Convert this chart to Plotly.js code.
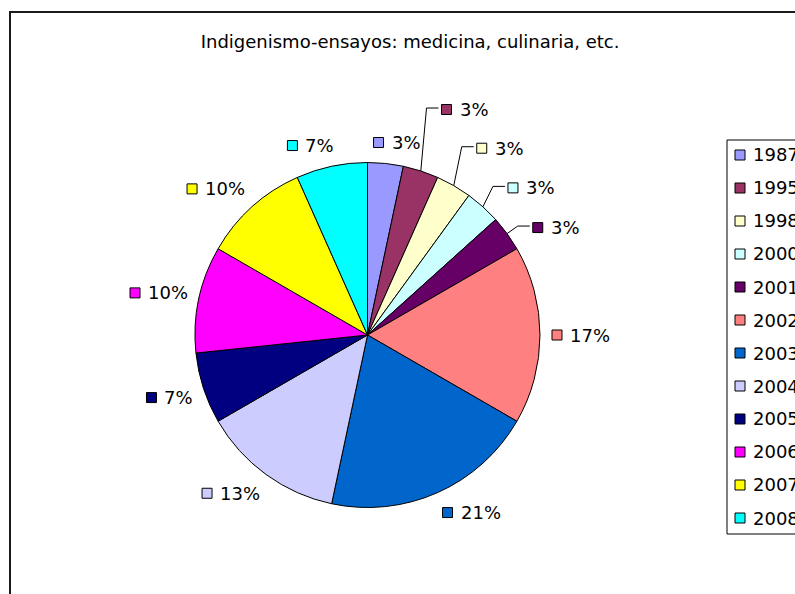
<!DOCTYPE html>
<html>
<head>
<meta charset="utf-8">
<script src="https://cdn.plot.ly/plotly-3.0.1.min.js"></script>
<style>
  html, body { margin: 0; padding: 0; background: #fff; overflow: hidden; width: 795px; height: 594px; }
  #wrap { position: absolute; left: 9px; top: 11px; border-left: 2px solid #1a1a1a; border-top: 2px solid #1a1a1a; }
  #chart { width: 860px; height: 620px; }
</style>
</head>
<body>
<div id="wrap"><div id="chart"></div></div>
<script>
// Data
const years = ['1987', '1995', '1998', '2000', '2001', '2002', '2003', '2004', '2005', '2006', '2007', '2008'];
const counts = [1, 1, 1, 1, 1, 5, 6, 4, 2, 3, 3, 2];
const pctLabels = ['3%', '3%', '3%', '3%', '3%', '17%', '21%', '13%', '7%', '10%', '10%', '7%'];
const colors = ['#9999FF', '#993366', '#FFFFCC', '#CCFFFF', '#660066', '#FF8080',
                '#0066CC', '#CCCCFF', '#000080', '#FF00FF', '#FFFF00', '#00FFFF'];
const titleText = 'Indigenismo-ensayos: medicina, culinaria, etc.';

const FONT = 'DejaVu Sans, Arial, sans-serif';
const W = 860, H = 620;
const dom = { x: [0.21395, 0.61512], y: [0.20242, 0.75887] };

// label placement tweaks (pixels), like the manually moved data labels of the original
const labelNudge = { 1: [17, -41], 2: [17, -18], 3: [17, -1], 4: [16, 10] };

const trace = {
  type: 'pie',
  labels: years,
  values: counts,
  textinfo: 'none',
  sort: false,
  direction: 'clockwise',
  rotation: 0,
  marker: { colors: colors, line: { color: '#000', width: 1 } },
  domain: dom,
  hoverinfo: 'none',
  showlegend: false
};

// ---- geometry helpers (pixel space of the plot, margin 0) ----
const px = x => x / W, py = y => 1 - y / H;
const cx = W * (dom.x[0] + dom.x[1]) / 2;
const cy = H * (1 - (dom.y[0] + dom.y[1]) / 2);
const r = Math.min(W * (dom.x[1] - dom.x[0]), H * (dom.y[1] - dom.y[0])) / 2;
const total = counts.reduce((a, b) => a + b, 0);

const ctx = document.createElement('canvas').getContext('2d');
ctx.font = '18px "DejaVu Sans"';

const SQ = 10, GAP = 7, LH = 18, R0 = r + 12;
const shapes = [], annotations = [];
let cum = 0;
counts.forEach((v, i) => {
  const th = (cum + v / 2) / total * 2 * Math.PI; cum += v;
  const s = Math.sin(th), c = Math.cos(th);
  const tw = ctx.measureText(pctLabels[i]).width;
  const gw = SQ + GAP + tw, gh = LH;
  const f = Math.max(-1, Math.min(1, 4 * s)), g = Math.max(-1, Math.min(1, 2 * c));
  const nd = labelNudge[i] || [0, 0];
  const X = cx + R0 * s + f * gw / 2 + nd[0];
  const Y = cy - R0 * c - g * gh / 2 + nd[1];
  const x0 = X - gw / 2;

  if (labelNudge[i]) {
    const ex = cx + r * s, ey = cy - r * c;
    shapes.push({
      type: 'path', xref: 'paper', yref: 'paper',
      path: 'M' + px(ex) + ',' + py(ey) + ' L' + px(x0 - 15) + ',' + py(Y - 1.5) + ' L' + px(x0 - 3) + ',' + py(Y - 1.5),
      line: { color: '#000', width: 1 }
    });
  }
  shapes.push({
    type: 'rect', xref: 'paper', yref: 'paper',
    x0: px(x0), x1: px(x0 + SQ), y0: py(Y + SQ / 2), y1: py(Y - SQ / 2),
    fillcolor: colors[i], line: { color: '#000', width: 1 }
  });
  annotations.push({
    xref: 'paper', yref: 'paper', x: px(x0 + SQ + GAP), y: py(Y),
    xanchor: 'left', yanchor: 'middle', showarrow: false, borderpad: 0,
    text: pctLabels[i], font: { family: FONT, size: 18, color: '#000' }
  });
});

// ---- legend box (page origin offset: 11, 13) ----
const LX = 716, LY = 127, LB = 521, STEP = 33, FIRST = 142, KEYX = 724, TXTX = 741;
shapes.push({
  type: 'rect', xref: 'paper', yref: 'paper',
  x0: px(LX), x1: 1.05, y0: py(LB), y1: py(LY),
  fillcolor: '#fff', line: { color: '#000', width: 1 }
});
years.forEach((y, i) => {
  const yc = FIRST + STEP * i;
  shapes.push({
    type: 'rect', xref: 'paper', yref: 'paper',
    x0: px(KEYX), x1: px(KEYX + SQ), y0: py(yc + SQ / 2), y1: py(yc - SQ / 2),
    fillcolor: colors[i], line: { color: '#000', width: 1 }
  });
  annotations.push({
    xref: 'paper', yref: 'paper', x: px(TXTX), y: py(yc),
    xanchor: 'left', yanchor: 'middle', showarrow: false, borderpad: 0,
    text: y, font: { family: FONT, size: 18, color: '#000' }
  });
});

const layout = {
  width: W, height: H,
  margin: { l: 0, r: 0, t: 0, b: 0 },
  paper_bgcolor: '#fff',
  font: { family: FONT, color: '#000' },
  title: {
    text: titleText,
    font: { family: FONT, size: 18, color: '#000' },
    x: 0.464, xref: 'container', xanchor: 'center',
    y: 0.9532, yref: 'container', yanchor: 'middle'
  },
  showlegend: false,
  shapes: shapes,
  annotations: annotations
};

Plotly.newPlot('chart', [trace], layout, { displayModeBar: false, staticPlot: true });
</script>
</body>
</html>
